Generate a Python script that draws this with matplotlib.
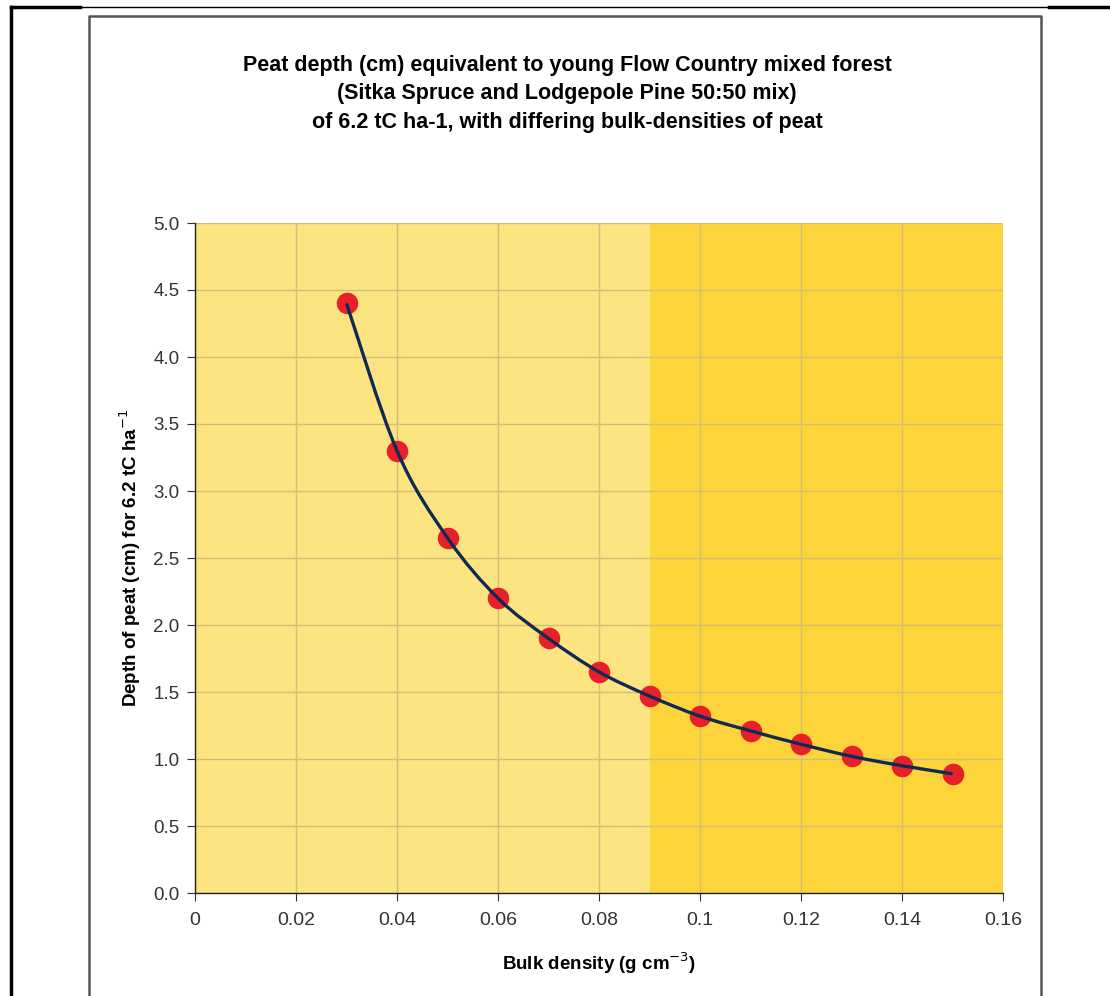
import matplotlib
matplotlib.use("Agg")
import matplotlib.pyplot as plt
from matplotlib.path import Path
from matplotlib.patches import PathPatch
from matplotlib.lines import Line2D
import numpy as np

# bulk density (g cm-3) and peat depth (cm) for 6.2 tC/ha
bulk_density = [0.03, 0.04, 0.05, 0.06, 0.07, 0.08, 0.09, 0.10, 0.11, 0.12, 0.13, 0.14, 0.15]
peat_depth = [4.40, 3.30, 2.65, 2.20, 1.90, 1.65, 1.47, 1.32, 1.21, 1.11, 1.02, 0.95, 0.89]

x_ticks = [0, 0.02, 0.04, 0.06, 0.08, 0.1, 0.12, 0.14, 0.16]
x_ticklabels = ["0", "0.02", "0.04", "0.06", "0.08", "0.1", "0.12", "0.14", "0.16"]
y_ticks = [0.0, 0.5, 1.0, 1.5, 2.0, 2.5, 3.0, 3.5, 4.0, 4.5, 5.0]

# shaded bands of bulk density
band_light = (0, 0.09)
band_dark = (0.09, 0.16)

title = ("Peat depth (cm) equivalent to young Flow Country mixed forest\n"
         "(Sitka Spruce and Lodgepole Pine 50:50 mix)\n"
         "of 6.2 tC ha-1, with differing bulk-densities of peat")

W, H = 1110, 996
plt.rcParams['font.family'] = ['Liberation Sans', 'DejaVu Sans']

fig = plt.figure(figsize=(W / 100, H / 100), dpi=100)
ax = fig.add_axes([195 / W, 1 - 893 / H, (1003 - 195) / W, (893 - 223) / H])

ax.axvspan(*band_light, color='#FCE481', zorder=0, lw=0)
ax.axvspan(*band_dark, color='#FDD43A', zorder=0, lw=0)

ax.set_xlim(0, 0.16)
ax.set_ylim(0, 5.0)
ax.set_xticks(x_ticks)
ax.set_xticklabels(x_ticklabels, fontsize=14, color='#333333')
ax.set_yticks(y_ticks)
ax.set_yticklabels(["%.1f" % v for v in y_ticks], fontsize=13.5, color='#333333')
ax.grid(True, color='#D6BC74', lw=1.0, zorder=1)
ax.set_axisbelow(True)

for s in ['top', 'right']:
    ax.spines[s].set_visible(False)
for s in ['left', 'bottom']:
    ax.spines[s].set_color('#222222')
    ax.spines[s].set_linewidth(1.0)

ax.tick_params(axis='x', direction='out', length=6, color='#333333', pad=8)
ax.tick_params(axis='y', direction='out', length=6, color='#333333', pad=5)

# smoothed line (Catmull-Rom style, like Excel smoothing)
pts = np.column_stack([bulk_density, peat_depth])
verts = [pts[0]]
codes = [Path.MOVETO]
n = len(pts)
for i in range(n - 1):
    p0 = pts[max(i - 1, 0)]
    p1 = pts[i]
    p2 = pts[i + 1]
    p3 = pts[min(i + 2, n - 1)]
    c1 = p1 + (p2 - p0) / 6.0
    c2 = p2 - (p3 - p1) / 6.0
    verts += [c1, c2, p2]
    codes += [Path.CURVE4] * 3
curve = PathPatch(Path(verts, codes), facecolor='none', edgecolor='#102A55',
                  lw=2.4, zorder=4)

ax.plot(bulk_density, peat_depth, 'o', color='#E8202A', markersize=15.5,
        markeredgewidth=0, zorder=3, clip_on=False)
ax.add_patch(curve)

ax.set_xlabel("Bulk density (g cm$^{-3}$)", fontsize=13.5, fontweight='bold')
ax.set_ylabel("Depth of peat (cm) for 6.2 tC ha$^{-1}$", fontsize=13.5, fontweight='bold')
ax.xaxis.set_label_coords(0.5, -(950 - 893) / (893 - 223), transform=ax.transAxes)
ax.yaxis.set_label_coords(-(195 - 143) / (1003 - 195), 0.5, transform=ax.transAxes)

fig.text(567 / W, 1 - 94 / H, title, ha='center', va='center', fontsize=15.5,
         fontweight='bold', linespacing=1.45)

# outer frame lines
def fline(xs, ys, **kw):
    fig.add_artist(Line2D([x / W for x in xs], [1 - y / H for y in ys],
                          transform=fig.transFigure, **kw))

fline([11, 80], [7, 7], color='black', lw=2.5)
fline([80, 1049], [7, 7], color='black', lw=1.0)
fline([1049, 1110], [7, 7], color='black', lw=2.5)
fline([11, 11], [7, 996], color='black', lw=2.5)
fline([89, 89, 1041, 1041], [996, 16, 16, 996], color='#555555', lw=1.8)

fig.savefig("out.png", dpi=100)
